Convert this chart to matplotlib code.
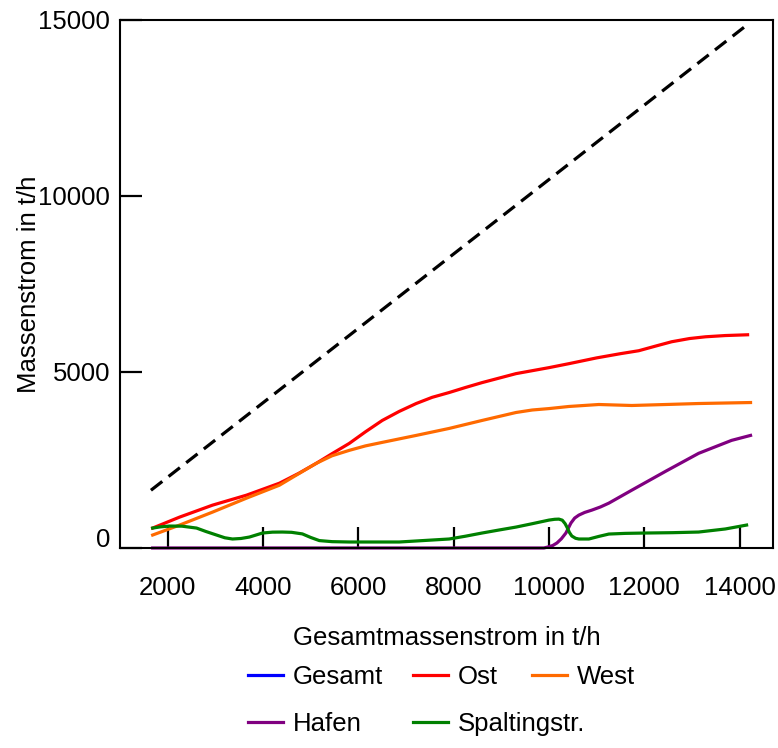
import matplotlib
import numpy as np
import matplotlib.transforms as mtransforms
from matplotlib import pyplot as plt
from matplotlib.lines import Line2D

# Massenströme in t/h über dem Gesamtmassenstrom
gesamt_x = [1650, 14100]
gesamt_y = [1640, 14800]

ost_x = [1686, 2251, 2942, 3654, 4345, 4750, 5120, 5450, 5812, 6150, 6503, 6859,
         7215, 7550, 7906, 8250, 8597, 9309, 10000, 10419, 11000, 11500, 11885,
         12250, 12576, 12950, 13288, 13700, 14168]
ost_y = [566, 877, 1217, 1500, 1840, 2120, 2406, 2680, 2972, 3300, 3623, 3880,
         4104, 4280, 4416, 4560, 4698, 4953, 5123, 5236, 5400, 5520, 5604,
         5740, 5859, 5950, 6000, 6035, 6057]

west_x = [1686, 2251, 2942, 3654, 4345, 4750, 5120, 5450, 5812, 6150, 6503, 7215,
          7906, 8597, 9309, 9650, 10000, 10419, 11047, 11738, 12450, 13141, 14230]
west_y = [368, 651, 1019, 1415, 1783, 2110, 2406, 2620, 2774, 2900, 3000, 3198,
          3396, 3623, 3849, 3920, 3960, 4020, 4076, 4048, 4076, 4104, 4132]

hafen_x = [1686, 9895, 9979, 10080, 10168, 10260, 10356, 10461, 10540, 10628, 10750,
           10901, 11080, 11257, 11738, 12450, 13141, 13832, 14230]
hafen_y = [0, 0, 28, 70, 142, 260, 425, 708, 850, 934, 1010, 1076, 1165, 1274,
           1642, 2180, 2689, 3057, 3198]

spalt_x = [1686, 1850, 2042, 2300, 2607, 2800, 3026, 3200, 3361, 3540, 3717, 3990,
           4200, 4408, 4600, 4827, 5000, 5183, 5450, 5812, 6859, 7906, 8250, 8597,
           8950, 9309, 9650, 10000, 10120, 10209, 10280, 10340, 10390, 10430, 10480,
           10560, 10628, 10838, 11050, 11257, 11600, 12031, 12600, 13141, 13700, 14147]
spalt_y = [566, 600, 623, 620, 566, 470, 368, 290, 255, 270, 311, 425, 450, 453,
           445, 400, 300, 210, 180, 170, 170, 255, 335, 425, 510, 594, 690, 792,
           815, 820, 790, 690, 560, 440, 340, 275, 255, 255, 330, 396, 415, 425,
           435, 453, 540, 651]

x_ticks = [2000, 4000, 6000, 8000, 10000, 12000, 14000]
y_ticks = [0, 5000, 10000, 15000]

legend_labels = ["Gesamt", "Ost", "West", "Hafen", "Spaltingstr."]
legend_colours = ["#0000ff", "#ff0000", "#ff6a00", "#800080", "#008000"]

plt.rcParams["font.family"] = ["Liberation Sans", "DejaVu Sans"]
fs = 18.5
lw = 2.3

fig = plt.figure(figsize=(7.78, 7.48), dpi=100)
ax = fig.add_axes([0.1542, 0.2674, 0.8393, 0.7059])

ax.plot(gesamt_x, gesamt_y, color="black", linewidth=lw, dashes=(4.5, 2.5))
ax.plot(ost_x, ost_y, color=legend_colours[1], linewidth=lw)
ax.plot(west_x, west_y, color=legend_colours[2], linewidth=lw)
ax.plot(hafen_x, hafen_y, color=legend_colours[3], linewidth=lw, clip_on=False)
ax.plot(spalt_x, spalt_y, color=legend_colours[4], linewidth=lw)

ax.set_xlim(1000, 14700)
ax.set_ylim(0, 15000)
ax.set_xticks(x_ticks)
ax.set_yticks(y_ticks)
ax.tick_params(direction="in", length=15, width=1.6, labelsize=fs)
ax.tick_params(axis="x", pad=20)
ax.tick_params(axis="y", pad=7, length=16)
for side in ax.spines.values():
    side.set_linewidth(1.5)

# the zero label sits a little above the bottom spine
shift = mtransforms.ScaledTranslation(0, 0.10, fig.dpi_scale_trans)
zero_label = ax.yaxis.get_major_ticks()[0].label1
zero_label.set_transform(zero_label.get_transform() + shift)

ax.set_xlabel("Gesamtmassenstrom in t/h", fontsize=fs, labelpad=19)
ax.set_ylabel("Massenstrom in t/h", fontsize=fs, labelpad=-2)

# legend entries placed individually, two rows
legend_pos = [(248, 677), (413, 677), (532, 677), (248, 724), (413, 724)]
for lab, col, (px, py) in zip(legend_labels, legend_colours, legend_pos):
    h = Line2D([], [], color=col, linewidth=lw)
    leg = fig.legend(handles=[h], labels=[lab], loc="center left",
                     bbox_to_anchor=(px / 778, 1 - py / 748), frameon=False,
                     borderpad=0, borderaxespad=0, handlelength=1.36,
                     handletextpad=0.4, fontsize=fs)

plt.savefig("out.png", dpi=100)
